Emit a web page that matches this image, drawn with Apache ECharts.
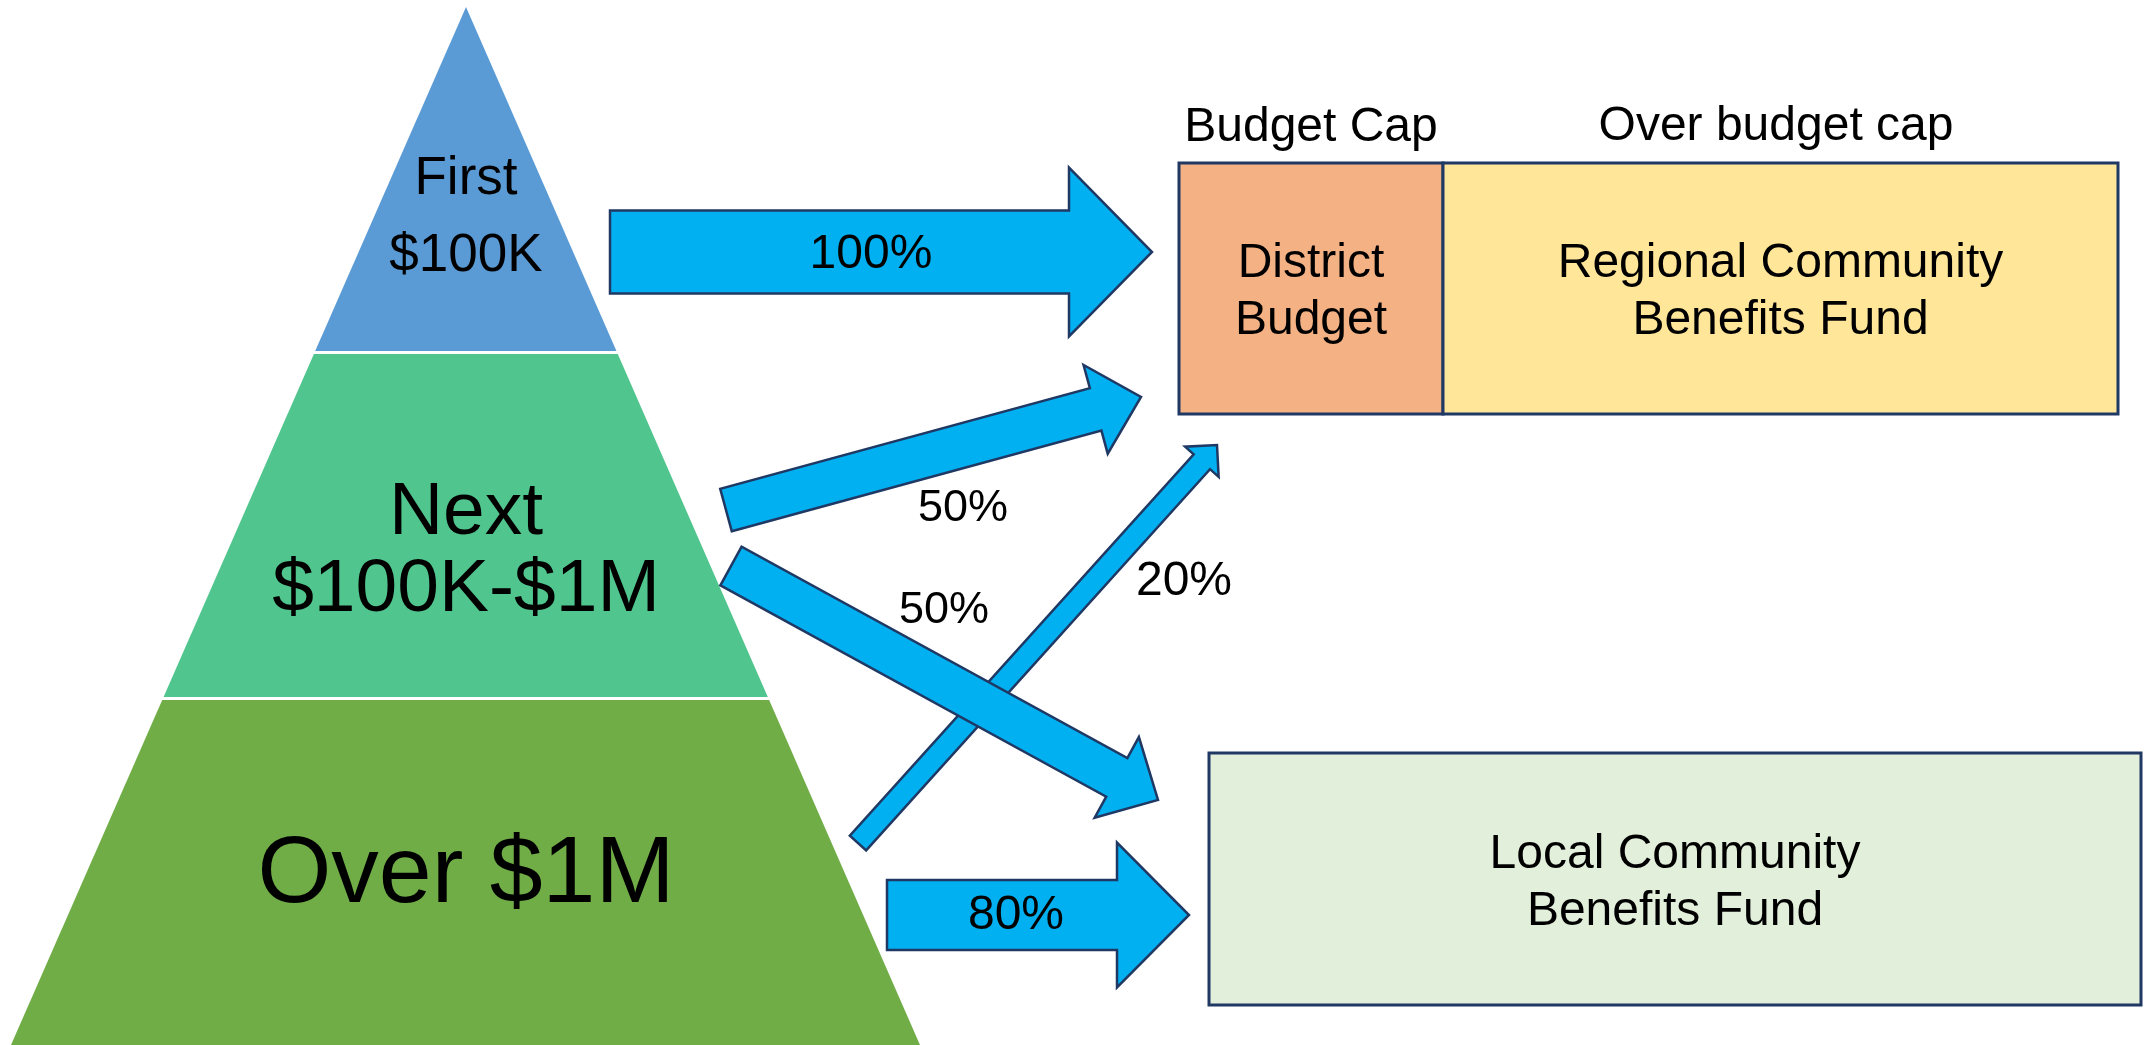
<!DOCTYPE html>
<html lang="en">
<head>
    <meta charset="UTF-8">
    <title>Community Benefits Split</title>
    <script src="https://cdn.jsdelivr.net/npm/echarts@6/dist/echarts.min.js"></script>
    <style>
        body { margin: 0; background: #fff; }
        #main { width: 2144px; height: 1045px; }
    </style>
</head>
<body>
<div id="main"></div>
<script>
    // pyramid tiers (top to bottom)
    var tierNames = ['First\n$100K', 'Next\n$100K-$1M', 'Over $1M'];
    var tierTop = [7, 354, 700];
    var tierBottom = [351, 697, 1045];
    var apex = [466, 7];
    var baseLeft = 11, baseRight = 920, baseY = 1045;

    // destination boxes: [x0, y0, x1, y1]
    var boxNames = ['District\nBudget', 'Regional Community\nBenefits Fund', 'Local Community\nBenefits Fund'];
    var boxRects = [[1179, 163, 1443, 414], [1443, 163, 2118, 414], [1209, 753, 2141, 1005]];

    // arrows: [x0, y0, x1, y1, shaft half width, head half width, head length]
    var arrowShapes = [
        [610, 252, 1152, 252, 41.5, 84.5, 83],
        [726, 510, 1141, 397, 22, 46, 47],
        [858, 843, 1217, 445, 11, 22.6, 22.6],
        [731, 566, 1158, 800, 22, 46, 47],
        [887, 915, 1189, 915, 35, 72.5, 72]
    ];

    // share labels
    var shareLabels = ['100%', '50%', '50%', '20%', '80%'];
    var sharePos = [[871, 255], [963, 509], [944, 611], [1184, 582], [1016, 916]];

    var headers = ['Budget Cap', 'Over budget cap'];
    var headerPos = [[1311, 128], [1776, 127]];

    var FONT = "'Liberation Sans', Arial, sans-serif";
    var tierColors = ['#5B9BD5', '#51C58E', '#70AD47'];
    var tierFont = [53, 75, 95];
    var tierLabelY = [218, 552, 876];
    var boxColors = ['#F4B183', '#FFE699', '#E2EFDA'];
    var lineColor = '#1F3864';

    function xAt(edge, y) {
        return apex[0] + (edge - apex[0]) * (y - apex[1]) / (baseY - apex[1]);
    }

    function arrowPoly(a) {
        var dx = a[2] - a[0], dy = a[3] - a[1];
        var len = Math.sqrt(dx * dx + dy * dy);
        var ux = dx / len, uy = dy / len, nx = -uy, ny = ux;
        var bx = a[2] - ux * a[6], by = a[3] - uy * a[6];
        return [
            [a[0] + nx * a[4], a[1] + ny * a[4]],
            [bx + nx * a[4], by + ny * a[4]],
            [bx + nx * a[5], by + ny * a[5]],
            [a[2], a[3]],
            [bx - nx * a[5], by - ny * a[5]],
            [bx - nx * a[4], by - ny * a[4]],
            [a[0] - nx * a[4], a[1] - ny * a[4]]
        ];
    }

    var myChart = echarts.init(document.getElementById('main'));

    var option = {
        animation: false,
        grid: {left: 0, right: 0, top: 0, bottom: 0},
        xAxis: {type: 'value', min: 0, max: 2144, show: false},
        yAxis: {type: 'value', min: 0, max: 1045, inverse: true, show: false},
        series: [
            {
                // pyramid
                type: 'custom',
                data: tierNames.map(function (n, i) { return [i]; }),
                renderItem: function (params, api) {
                    var i = params.dataIndex;
                    var t = tierTop[i], b = tierBottom[i];
                    var pts = [[xAt(baseLeft, t), t], [xAt(baseRight, t), t],
                        [xAt(baseRight, b), b], [xAt(baseLeft, b), b]];
                    if (i === 0) pts = [[apex[0], apex[1]], [xAt(baseRight, b), b], [xAt(baseLeft, b), b]];
                    var c = api.coord([apex[0], tierLabelY[i]]);
                    return {
                        type: 'group',
                        children: [{
                            type: 'polygon',
                            shape: {points: pts.map(function (p) { return api.coord(p); })},
                            style: {fill: tierColors[i]}
                        }, {
                            type: 'text',
                            z2: 10,
                            style: {
                                text: tierNames[i], x: c[0], y: c[1],
                                align: 'center', verticalAlign: 'middle',
                                fontFamily: FONT, fontSize: tierFont[i], lineHeight: 77, fill: '#000'
                            }
                        }]
                    };
                }
            },
            {
                // boxes
                type: 'custom',
                data: boxNames.map(function (n, i) { return [i]; }),
                renderItem: function (params, api) {
                    var i = params.dataIndex, r = boxRects[i];
                    var p0 = api.coord([r[0], r[1]]), p1 = api.coord([r[2], r[3]]);
                    return {
                        type: 'group',
                        children: [{
                            type: 'rect',
                            shape: {x: p0[0], y: p0[1], width: p1[0] - p0[0], height: p1[1] - p0[1]},
                            style: {fill: boxColors[i], stroke: lineColor, lineWidth: 3}
                        }, {
                            type: 'text',
                            z2: 10,
                            style: {
                                text: boxNames[i], x: (p0[0] + p1[0]) / 2, y: (p0[1] + p1[1]) / 2 + 4,
                                align: 'center', verticalAlign: 'middle',
                                fontFamily: FONT, fontSize: 48, lineHeight: 57, fill: '#000'
                            }
                        }]
                    };
                }
            },
            {
                // arrows
                type: 'custom',
                z: 3,
                data: arrowShapes.map(function (a, i) { return [i]; }),
                renderItem: function (params, api) {
                    var pts = arrowPoly(arrowShapes[params.dataIndex]);
                    return {
                        type: 'polygon',
                        z2: params.dataIndex,
                        shape: {points: pts.map(function (p) { return api.coord(p); })},
                        style: {fill: '#00B0F0', stroke: lineColor, lineWidth: 2.5, lineJoin: 'miter'}
                    };
                }
            },
            {
                // share and header labels
                type: 'custom',
                z: 5,
                data: shareLabels.concat(headers).map(function (t, i) { return [i]; }),
                renderItem: function (params, api) {
                    var i = params.dataIndex, n = shareLabels.length;
                    var txt = i < n ? shareLabels[i] : headers[i - n];
                    var pos = i < n ? sharePos[i] : headerPos[i - n];
                    var size = txt === '50%' ? 45 : 48;
                    var c = api.coord(pos);
                    return {
                        type: 'text',
                        style: {
                            text: txt, x: c[0], y: c[1],
                            align: 'center', verticalAlign: 'middle',
                            fontFamily: FONT, fontSize: size, fill: '#000'
                        }
                    };
                }
            }
        ]
    };

    myChart.setOption(option);
</script>
</body>
</html>
